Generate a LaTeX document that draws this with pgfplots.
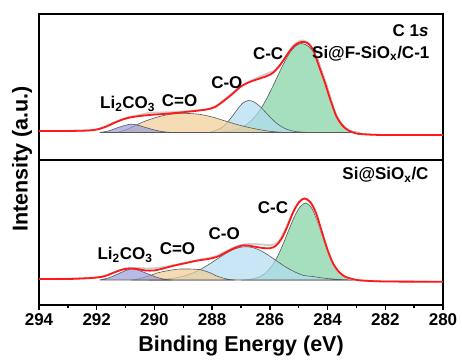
\documentclass[border=0pt]{standalone}
\usepackage{fontspec}
\setmainfont{Liberation Sans}
\usepackage{pgfplots}
\pgfplotsset{compat=1.18}
\definecolor{cpurp}{RGB}{155,155,219}
\definecolor{corange}{RGB}{241,205,148}
\definecolor{cblue}{RGB}{176,219,241}
\definecolor{cgreen}{RGB}{128,209,162}
\definecolor{cred}{RGB}{255,25,25}
\definecolor{cgray}{RGB}{205,205,205}
\newcommand{\lbl}{\fontsize{17}{20}\selectfont\bfseries}
\newcommand{\axlbl}{\fontsize{21.5}{24}\selectfont\bfseries}
\pgfplotsset{
  panel/.style={scale only axis, width=404pt, xmin=280, xmax=294, x dir=reverse,
    ymin=0, ytick=\empty, axis line style={line width=1.3pt}},
  comp/.style={draw=black!65, line width=0.6pt, fill opacity=0.7, smooth},
  env/.style={cred, line width=1.8pt, smooth},
  raw/.style={cgray, line width=1.8pt, smooth},
}
\begin{document}
\begin{tikzpicture}
\path[use as bounding box] (-39pt,-58pt) rectangle (423pt,305pt);
% ---------------- bottom panel: Si@SiOx/C ----------------
\begin{axis}[panel, at={(0pt,0pt)}, anchor=south west, height=145pt, ymax=145,
  xtick={280,282,...,294}, minor x tick num=1, tick align=outside, xtick pos=bottom,
  major tick length=5pt, minor tick length=3pt,
  every tick/.style={black, line width=1.3pt},
  /pgf/number format/assume math mode=true,
  xticklabel style={font=\lbl}]
\addplot[comp, fill=cgreen] coordinates {
(287.0,25) (286.75,25.6) (286.55,26.5) (286.35,28.4) (286.15,32) (285.95,38.3)
(285.75,47.7) (285.55,60.2) (285.35,74.5) (285.15,88.2) (284.95,98.3) (284.75,102)
(284.55,96.9) (284.35,83.5) (284.15,66.5) (283.95,50.7) (283.75,38.9) (283.55,31.5)
(283.35,27.7) (283.15,26) (282.95,25)} -- cycle;
\addplot[comp, fill=cblue] coordinates {
(290.2,25) (289.82,25.6) (289.42,26.5) (289.12,28) (288.82,30.4) (288.62,32.6)
(288.42,35.4) (288.22,38.7) (288.02,42.3) (287.82,46.1) (287.62,49.9) (287.42,53.3)
(287.22,56) (287.02,57.7) (286.82,58.3) (286.62,57.6) (286.42,55.7) (286.22,52.8)
(286.02,49.2) (285.82,45.2) (285.62,41.2) (285.42,37.5) (285.22,34.3) (285.02,31.6)
(284.82,29.5) (284.52,28.5) (284.22,27.2) (283.9,26.2) (283.5,25.4) (283.1,25)} -- cycle;
\addplot[comp, fill=corange] coordinates {
(290.8,25) (290.5,26.5) (290.2,29) (289.9,32) (289.6,34) (289.2,35.8) (288.8,36)
(288.4,35.2) (288.1,32.5) (287.8,28.5) (287.5,26) (287.2,25)} -- cycle;
\addplot[comp, fill=cpurp] coordinates {
(291.9,25) (291.6,27) (291.3,30.5) (291.0,34.5) (290.8,36) (290.6,35.2) (290.3,32)
(290.0,28.5) (289.7,26) (289.4,25)} -- cycle;
\addplot[raw] coordinates {
(293.6,26) (292.0,27.5) (291.5,31.5) (291.0,36.5) (290.6,37) (290.2,36.5) (289.8,37.5)
(289.3,40) (288.8,43) (288.2,46.5) (287.8,49.5) (287.3,57) (286.9,60.5) (286.5,61)
(286.1,60) (285.8,61) (285.6,68) (285.3,86) (285.0,102.5) (284.8,106.5) (284.5,98)
(284.2,73) (283.9,47) (283.6,32) (283.2,26) (282.5,24) (280.2,23.3)};
\addplot[env] coordinates {
(294,26) (293.0,26) (292.3,26.8) (292.0,27.5) (291.7,29) (291.4,32.5) (291.1,35.5)
(290.85,36.5) (290.6,36) (290.3,34.5) (290.0,34.6) (289.7,36.5) (289.3,39.5)
(288.9,42) (288.5,44.5) (288.1,46.2) (287.8,48.5) (287.5,53) (287.2,57.3)
(286.9,59.7) (286.6,58.7) (286.3,57.2) (286.0,56.8) (285.8,59) (285.6,66)
(285.4,78) (285.2,92.5) (285.0,102.5) (284.8,106.5) (284.6,103) (284.4,92)
(284.2,73.5) (284.0,55) (283.8,41) (283.6,33) (283.4,28.5) (283.1,25.7)
(282.8,24.5) (282.0,23.5) (280,23.3)};
\node[anchor=base east, font=\lbl] at (axis cs:280.38,125) {Si@SiO\textsubscript{x}/C};
\node[anchor=base, font=\lbl] at (axis cs:285.89,91.7) {C-C};
\node[anchor=base, font=\lbl] at (axis cs:287.58,65.7) {C-O};
\node[anchor=base, font=\lbl] at (axis cs:289.2,50) {C=O};
\node[anchor=base, font=\lbl] at (axis cs:291.02,45) {Li\textsubscript{2}CO\textsubscript{3}};
\end{axis}
% ---------------- top panel: Si@F-SiOx/C-1 ----------------
\begin{axis}[panel, at={(0pt,145pt)}, anchor=south west, height=146pt, ymax=146,
  xtick=\empty]
\addplot[comp, fill=cgreen] coordinates {
(287.8,27.5) (287.5,28.5) (287.2,30.2) (286.9,33.8) (286.7,38.0) (286.5,43.9)
(286.3,51.9) (286.1,61.9) (285.9,73.5) (285.7,85.8) (285.5,97.6) (285.3,107.6)
(285.1,114.2) (284.9,116.5) (284.7,114.3) (284.5,108.5) (284.35,101.5) (284.2,89.5)
(284.0,71.1) (283.8,52.5) (283.65,41.7) (283.5,34.5) (283.3,30.2) (283.1,28.4)
(282.9,27.5)} -- cycle;
\addplot[comp, fill=cblue] coordinates {
(288.1,27.5) (287.94,28.9) (287.74,31.1) (287.54,35.5) (287.34,42.2) (287.14,50.1)
(286.94,56.8) (286.74,59.5) (286.54,57.9) (286.34,53.5) (286.14,47.5) (285.94,41.4)
(285.74,36.2) (285.54,32.4) (285.34,30.0) (285.14,28.6) (284.84,27.8) (284.6,27.5)} -- cycle;
\addplot[comp, fill=corange] coordinates {
(291.3,27.5) (291.0,30.0) (290.7,34.0) (290.4,38.0) (290.0,42.0) (289.6,45.0)
(289.2,46.5) (288.8,46.5) (288.4,45.5) (288.0,43.0) (287.6,39.5) (287.2,36.0)
(286.8,33.0) (286.4,30.5) (286.0,28.7) (285.5,27.5)} -- cycle;
\addplot[comp, fill=cpurp] coordinates {
(291.9,27.5) (291.6,29.0) (291.3,32.0) (291.0,34.8) (290.8,35.8) (290.6,35.0)
(290.3,32.5) (290.0,30.0) (289.7,28.3) (289.4,27.5)} -- cycle;
\addplot[raw] coordinates {
(293.6,29) (292.1,30) (291.5,36.5) (291.0,42) (290.6,44.5) (290.2,47) (289.8,47.5)
(289.3,48) (288.6,49.5) (288.0,52) (287.6,60) (287.3,67) (287.0,74) (286.6,80)
(286.3,84) (286.0,87.5) (285.8,90) (285.5,101) (285.2,114) (285.0,118.5) (284.85,119.5)
(284.6,115) (284.3,96) (284.0,72) (283.8,53) (283.6,40) (283.3,30.5) (282.9,26.5)
(282.0,25) (280.2,25)};
\addplot[env] coordinates {
(294,29) (293.0,29) (292.3,29.5) (292.0,30.5) (291.7,33) (291.4,37) (291.1,40.5)
(290.8,42.8) (290.5,44) (290.1,45.2) (289.6,46.2) (289.1,47.5) (288.6,49)
(288.2,50.5) (287.9,53) (287.6,59) (287.3,66) (287.0,73.5) (286.7,78) (286.4,81)
(286.1,84) (285.9,87) (285.7,93) (285.5,101) (285.3,109.5) (285.1,115.5)
(284.9,118) (284.7,117) (284.5,110) (284.3,94) (284.1,78) (283.9,60) (283.7,44)
(283.5,35) (283.3,30) (283.0,26.5) (282.6,25.5) (282.0,25) (280,25)};
\node[anchor=base east, font=\lbl] at (axis cs:280.38,123) {C 1\textit{s}};
\node[anchor=base east, font=\lbl] at (axis cs:280.35,101.7) {Si@F-SiO\textsubscript{x}/C-1};
\node[anchor=base, font=\lbl] at (axis cs:286.06,100) {C-C};
\node[anchor=base, font=\lbl] at (axis cs:287.49,71) {C-O};
\node[anchor=base, font=\lbl] at (axis cs:289.13,53) {C=O};
\node[anchor=base, font=\lbl] at (axis cs:290.93,51) {Li\textsubscript{2}CO\textsubscript{3}};
\end{axis}
\node[anchor=base, font=\axlbl] at (202pt,-46pt) {Binding Energy (eV)};
\node[rotate=90, font=\axlbl] at (-17pt,146pt) {Intensity (a.u.)};
\end{tikzpicture}
\end{document}
